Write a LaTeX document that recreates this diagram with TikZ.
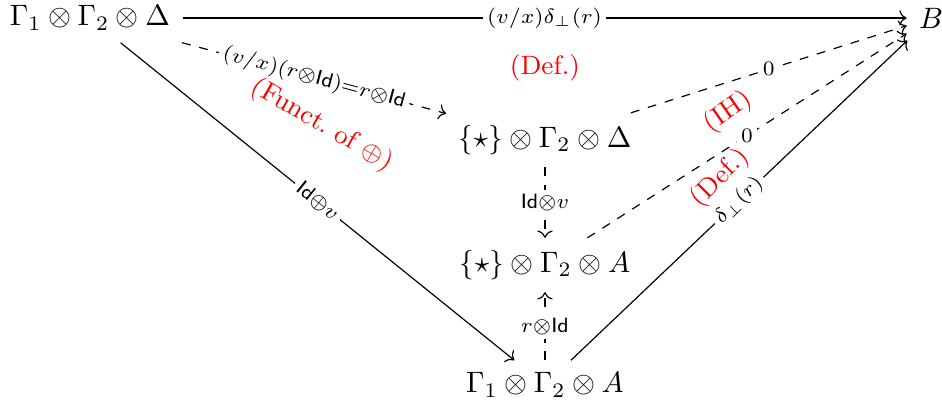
\documentclass[tikz,border=0pt]{standalone}
\usepackage{amsmath,amssymb}
\usepackage{xcolor}
\usetikzlibrary{arrows.meta}

\begin{document}
\begin{tikzpicture}[x=0.0119cm, y=-0.0119cm, >={To},
    every node/.style={inner sep=4pt},
    lbl/.style={font=\scriptsize, fill=white, inner sep=1.5pt},
    note/.style={font=\small, text=red, inner sep=0pt}]
    \useasboundingbox (0,0) rectangle (942,408);

    % Objects
    \node (A) at (90,18) {$\Gamma_1 \otimes \Gamma_2 \otimes \Delta$};
    \node (B) at (931,18) {$B$};
    \node (C) at (545,140) {$\{\star\} \otimes \Gamma_2 \otimes \Delta$};
    \node (D) at (545,265) {$\{\star\} \otimes \Gamma_2 \otimes A$};
    \node (E) at (545,385) {$\Gamma_1 \otimes \Gamma_2 \otimes A$};

    % Arrows
    \draw[->] (A) -- (B) node[midway, lbl] {$(v/x)\delta_\perp(r)$};
    \draw[->, dashed] (A) -- (C) node[midway, sloped, lbl] {$(v/x)(r{\otimes}\mathsf{Id}){=}r{\otimes}\mathsf{Id}$};
    \draw[->] (A) -- (E) node[midway, sloped, lbl] {$\mathsf{Id}{\oplus}v$};
    \draw[->, dashed] (C) -- (D) node[midway, lbl] {$\mathsf{Id}{\otimes}v$};
    \draw[->, dashed] (E) -- (D) node[midway, lbl] {$r{\otimes}\mathsf{Id}$};
    \draw[->, dashed] (C) -- (B) node[midway, lbl] {$0$};
    \draw[->, dashed] (D) -- (B) node[midway, lbl] {$0$};
    \draw[->] (E) -- (B) node[midway, sloped, lbl] {$\delta_\perp(r)$};

    % Justifications
    \node[note] (def1) at (545,68) {(Def.)};
    \node[note, rotate=-30] (funct) at (322,125) {(Funct.\ of $\oplus$)};
    \node[note, rotate=35] (ih) at (728,112) {(IH)};
    \node[note, rotate=45] (def2) at (720,178) {(Def.)};
\end{tikzpicture}
\end{document}
